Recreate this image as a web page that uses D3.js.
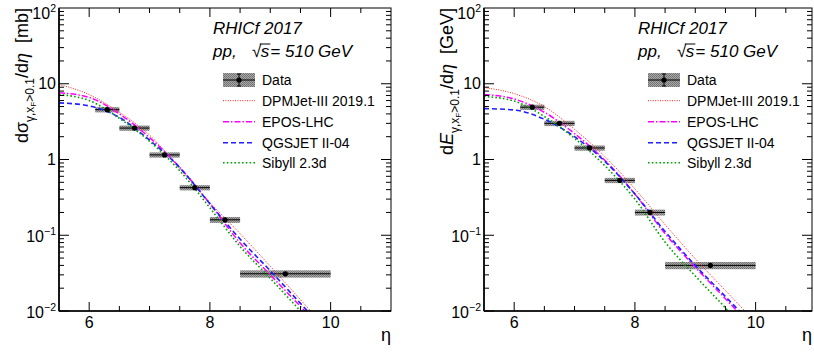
<!DOCTYPE html>
<html><head><meta charset="utf-8">
<script src="https://cdn.jsdelivr.net/npm/d3@7"></script>
<style>body{margin:0;background:#fff} text{font-family:"Liberation Sans",Arial,Helvetica,sans-serif}</style>
</head><body><svg id="c" width="814" height="352" xmlns="http://www.w3.org/2000/svg"></svg>
<script>
// ---------- data ----------
const etaGrid   = [5.5, 6.0, 6.5, 7.0, 7.5, 8.0, 8.5, 9.0, 9.5, 10.0];
const binLo     = [6.1, 6.5, 7.0, 7.5, 8.0, 8.5];
const binHi     = [6.5, 7.0, 7.5, 8.0, 8.5, 10.0];
const binCenter = [6.3, 6.75, 7.25, 7.75, 8.25, 9.25];

// left panel: dsigma/deta [mb]
const dataXsec   = [4.55, 2.6, 1.15, 0.425, 0.16, 0.031];
const sysXsec    = [0.08, 0.08, 0.08, 0.08, 0.09, 0.11];
const dpmXsec    = [9.8, 7.2, 4.2, 2.1, 0.76, 0.27, 0.105, 0.039, 0.0141, 0.0051];
const eposXsec   = [7.6, 6.6, 4.0, 1.95, 0.79, 0.26, 0.079, 0.030, 0.0115, 0.0044];
const qgsXsec    = [5.6, 5.1, 3.6, 1.8, 0.78, 0.26, 0.089, 0.034, 0.0126, 0.0047];
const sibyllXsec = [7.2, 6.0, 3.5, 1.74, 0.71, 0.23, 0.071, 0.027, 0.0100, 0.0037];

// right panel: dE/deta [GeV]
const dataEnergy   = [4.9, 3.0, 1.42, 0.53, 0.20, 0.040];
const sysEnergy    = [0.08, 0.08, 0.08, 0.08, 0.09, 0.11];
const dpmEnergy    = [8.9, 7.4, 5.0, 2.5, 1.10, 0.41, 0.138, 0.049, 0.0186, 0.0071];
const eposEnergy   = [7.2, 6.3, 4.2, 2.2, 0.98, 0.35, 0.105, 0.038, 0.0145, 0.0055];
const qgsEnergy    = [4.7, 4.5, 3.4, 2.0, 0.95, 0.35, 0.112, 0.040, 0.0155, 0.0060];
const sibyllEnergy = [6.8, 5.9, 3.7, 1.9, 0.83, 0.30, 0.081, 0.029, 0.0110, 0.0041];

const modelNames  = ["DPMJet-III 2019.1", "EPOS-LHC", "QGSJET II-04", "Sibyll 2.3d"];
const xTickValues = [6, 8, 10];
const yTickValues = [1e-2, 1e-1, 1, 10, 100];
const yTickMain   = ["10", "10", "1", "10", "10"];
const yTickSup    = ["\u22122", "\u22121", "", "", "2"];
const headerLine1 = "RHICf 2017";
const headerPP    = "pp,";
const headerRest  = "= 510 GeV";

// ---------- styles ----------
const modelStyles = [
  {color:"#ff2020", width:1.0, dash:"1,1.4"},
  {color:"#ff00ff", width:1.5, dash:"6,2,1.5,2"},
  {color:"#2020ff", width:1.6, dash:"5,3"},
  {color:"#00a000", width:1.6, dash:"1.6,2.2"}
];

const svg = d3.select("#c");
const defs = svg.append("defs");
const pat = defs.append("pattern").attr("id","grayTex").attr("width",2).attr("height",2)
  .attr("patternUnits","userSpaceOnUse");
pat.append("rect").attr("width",2).attr("height",2).attr("fill","#a8a8a8");
pat.append("rect").attr("width",1).attr("height",1).attr("fill","#6e6e6e");
pat.append("rect").attr("x",1).attr("y",1).attr("width",1).attr("height",1).attr("fill","#7a7a7a");

const TOP = 8, BOTTOM = 311;

function drawPanel(p) {
  const x = d3.scaleLinear().domain([5.5, 11]).range([p.left, p.left + 332]);
  const y = d3.scaleLog().domain([0.01, 100]).range([BOTTOM, TOP]);
  const R = p.frameRight;
  const g = svg.append("g");
  const clipId = "clip" + p.id;
  defs.append("clipPath").attr("id", clipId).append("rect")
    .attr("x", p.left).attr("y", TOP).attr("width", R - p.left).attr("height", BOTTOM - TOP);

  // data boxes
  const dg = g.append("g");
  p.data.forEach((v, i) => {
    const s = p.sys[i];
    dg.append("rect").attr("x", x(binLo[i])).attr("width", x(binHi[i]) - x(binLo[i]))
      .attr("y", y(v * (1 + s))).attr("height", y(v * (1 - s)) - y(v * (1 + s)))
      .attr("fill", "url(#grayTex)");
  });

  // model curves
  const cg = g.append("g").attr("clip-path", `url(#${clipId})`);
  const line = d3.line().x(d => x(d[0])).y(d => y(d[1])).curve(d3.curveMonotoneX);
  p.models.forEach((vals, k) => {
    const st = modelStyles[k];
    cg.append("path").datum(etaGrid.map((e, i) => [e, vals[i]]))
      .attr("d", line).attr("fill", "none").attr("stroke", st.color)
      .attr("stroke-width", st.width).attr("stroke-dasharray", st.dash);
  });

  // data points
  p.data.forEach((v, i) => {
    dg.append("line").attr("x1", x(binLo[i])).attr("x2", x(binHi[i]))
      .attr("y1", y(v)).attr("y2", y(v)).attr("stroke", "#000").attr("stroke-width", 1);
    g.append("circle").attr("cx", x(binCenter[i])).attr("cy", y(v)).attr("r", 2.6).attr("fill", "#000");
  });

  // frame
  g.append("rect").attr("x", p.left).attr("y", TOP).attr("width", R - p.left).attr("height", BOTTOM - TOP)
    .attr("fill", "none").attr("stroke", "#000").attr("stroke-width", 1);
  g.append("line").attr("x1", p.left).attr("x2", p.left).attr("y1", TOP).attr("y2", BOTTOM)
    .attr("stroke", "#000").attr("stroke-width", 1.6);
  g.append("line").attr("x1", p.left).attr("x2", R).attr("y1", BOTTOM).attr("y2", BOTTOM)
    .attr("stroke", "#000").attr("stroke-width", 1.6);

  // x ticks
  const tg = g.append("g").attr("stroke", "#000").attr("stroke-width", 1);
  d3.range(5.5, 11.001, 0.5).forEach(t => {
    const xx = x(t);
    if (xx <= p.left + 0.5 || xx >= R - 0.5) return;
    const len = xTickValues.includes(t) ? 9 : 5;
    tg.append("line").attr("x1", xx).attr("x2", xx).attr("y1", BOTTOM).attr("y2", BOTTOM - len);
    tg.append("line").attr("x1", xx).attr("x2", xx).attr("y1", TOP).attr("y2", TOP + len);
  });
  // y ticks
  [-2, -1, 0, 1].forEach(d => {
    for (let k = 1; k <= 9; k++) {
      const yy = y(k * Math.pow(10, d));
      const len = k === 1 ? 10 : 5;
      tg.append("line").attr("x1", p.left).attr("x2", p.left + len).attr("y1", yy).attr("y2", yy);
      tg.append("line").attr("x1", R).attr("x2", R - len).attr("y1", yy).attr("y2", yy);
    }
  });

  // x tick labels
  xTickValues.forEach(t => {
    g.append("text").attr("x", x(t)).attr("y", 328).attr("text-anchor", "middle")
      .attr("font-size", 16).text(t);
  });
  // y tick labels
  yTickValues.forEach((v, i) => {
    const by = Math.max(y(v) + (yTickSup[i] ? 7 : 5.5), 18.5);
    const t = g.append("text").attr("x", p.left - 3).attr("y", by)
      .attr("text-anchor", "end").attr("font-size", 16);
    t.append("tspan").text(yTickMain[i]);
    if (yTickSup[i]) t.append("tspan").attr("font-size", 10.5).attr("dy", -7).text(yTickSup[i]);
  });
  // x title
  g.append("text").attr("x", R).attr("y", 341).attr("text-anchor", "end")
    .attr("font-size", 18).text("\u03b7");

  // y title
  const yt = g.append("text").attr("transform", `translate(${p.left - 31},${TOP}) rotate(-90)`)
    .attr("text-anchor", "end").attr("font-size", 18);
  yt.append("tspan").text("d");
  yt.append("tspan").attr("font-style", p.symItalic ? "italic" : "normal").text(p.sym);
  yt.append("tspan").attr("font-size", 12).attr("dy", 5.5).text("\u03b3,x");
  yt.append("tspan").attr("font-size", 8).attr("dy", 2.5).text("F");
  yt.append("tspan").attr("font-size", 12).attr("dy", -2.5).text(">0.1");
  yt.append("tspan").attr("dy", -5.5).text("/d");
  yt.append("tspan").attr("font-style", "italic").text("\u03b7");
  yt.append("tspan").text("\u00a0\u00a0[" + p.unit + "]");

  // header
  const hx = p.left + 154;
  g.append("text").attr("x", hx).attr("y", 34).attr("font-size", 17).attr("font-style", "italic").text(headerLine1);
  g.append("text").attr("x", hx).attr("y", 57).attr("font-size", 17).attr("font-style", "italic").text(headerPP);
  const sq = g.append("text").attr("x", hx + 39).attr("y", 57).attr("font-size", 17).text("\u221a");
  const sqW = sq.node().getComputedTextLength();
  const sT = g.append("text").attr("x", hx + 39 + sqW - 0.5).attr("y", 57).attr("font-size", 17)
    .attr("font-style", "italic").text("s");
  const sW = sT.node().getComputedTextLength();
  g.append("line").attr("x1", hx + 39 + sqW - 1.5).attr("x2", hx + 39 + sqW + sW + 0.5)
    .attr("y1", 44).attr("y2", 44).attr("stroke", "#000").attr("stroke-width", 1);
  g.append("text").attr("x", hx + 39 + sqW + sW + 0.5).attr("y", 57).attr("font-size", 17)
    .attr("font-style", "italic").text(headerRest);

  // legend
  const lx0 = p.left + 164, lx1 = p.left + 196, tx = p.left + 203;
  const rows = [80, 100.7, 121.7, 142.7, 162.7];
  const lg = g.append("g");
  lg.append("rect").attr("x", lx0).attr("y", rows[0] - 7).attr("width", lx1 - lx0).attr("height", 14)
    .attr("fill", "url(#grayTex)");
  const cx = (lx0 + lx1) / 2;
  lg.append("line").attr("x1", lx0).attr("x2", lx1).attr("y1", rows[0]).attr("y2", rows[0]).attr("stroke", "#000");
  lg.append("line").attr("x1", cx).attr("x2", cx).attr("y1", rows[0] - 6).attr("y2", rows[0] + 6).attr("stroke", "#000");
  lg.append("line").attr("x1", cx - 2).attr("x2", cx + 2).attr("y1", rows[0] - 6).attr("y2", rows[0] - 6).attr("stroke", "#000");
  lg.append("line").attr("x1", cx - 2).attr("x2", cx + 2).attr("y1", rows[0] + 6).attr("y2", rows[0] + 6).attr("stroke", "#000");
  lg.append("circle").attr("cx", cx).attr("cy", rows[0]).attr("r", 2.6).attr("fill", "#000");
  lg.append("text").attr("x", tx).attr("y", rows[0] + 5).attr("font-size", 14).text("Data");
  modelNames.forEach((n, k) => {
    const st = modelStyles[k], yy = rows[k + 1];
    lg.append("line").attr("x1", lx0).attr("x2", lx1).attr("y1", yy).attr("y2", yy)
      .attr("stroke", st.color).attr("stroke-width", st.width).attr("stroke-dasharray", st.dash);
    lg.append("text").attr("x", tx).attr("y", yy + 5).attr("font-size", 14).text(n);
  });
}

drawPanel({id:"L", left:59, frameRight:391, data:dataXsec, sys:sysXsec,
  models:[dpmXsec, eposXsec, qgsXsec, sibyllXsec], sym:"\u03c3", symItalic:false, unit:"mb"});
drawPanel({id:"R", left:484, frameRight:812, data:dataEnergy, sys:sysEnergy,
  models:[dpmEnergy, eposEnergy, qgsEnergy, sibyllEnergy], sym:"E", symItalic:true, unit:"GeV"});
</script>
</body></html>
